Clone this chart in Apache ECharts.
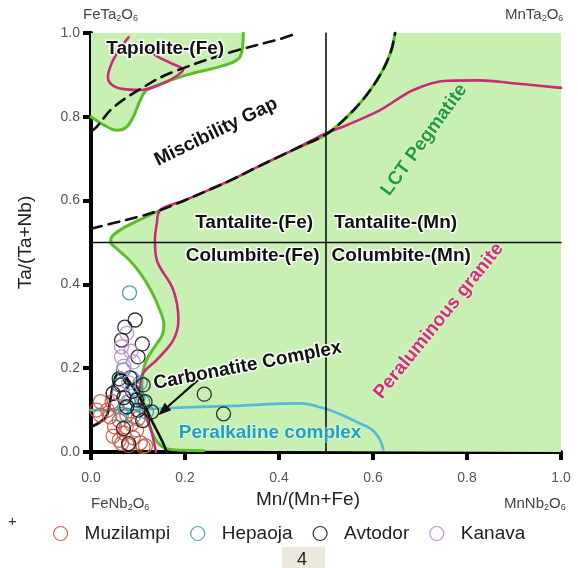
<!DOCTYPE html>
<html>
<head>
<meta charset="utf-8">
<script src="https://cdn.jsdelivr.net/npm/echarts@6/dist/echarts.min.js"></script>
<style>
  html, body { margin: 0; padding: 0; background: #fff; }
  #chart { width: 578px; height: 568px; }
</style>
</head>
<body>
<div id="chart"></div>
<script>
// Measured compositions: [Mn/(Mn+Fe), Ta/(Ta+Nb)]
const muzilampi = [
  [0.012,0.100],[0.020,0.088],[0.020,0.120],[0.035,0.100],[0.040,0.084],[0.045,0.120],
  [0.050,0.060],[0.055,0.110],[0.047,0.038],[0.060,0.075],[0.065,0.020],[0.070,0.045],
  [0.076,0.088],[0.080,0.015],[0.086,0.066],[0.090,0.034],[0.097,0.052],[0.100,0.080],
  [0.105,0.022],[0.111,0.013],[0.116,0.015],[0.060,0.028],[0.075,0.060],[0.047,0.140]
];
const hepaoja = [
  [0.082,0.380],[0.069,0.196],[0.087,0.176],[0.095,0.150],[0.079,0.120],[0.072,0.105],
  [0.118,0.096],[0.100,0.130],[0.060,0.160],[0.090,0.085],[0.105,0.165],[0.065,0.090],
  [0.110,0.120]
];
const avtodor = [
  [0.094,0.315],[0.072,0.298],[0.065,0.267],[0.109,0.258],[0.100,0.227],[0.111,0.160],
  [0.241,0.138],[0.282,0.091],[0.129,0.096],[0.047,0.140],[0.083,0.177],[0.069,0.056],
  [0.097,0.124],[0.076,0.108],[0.060,0.175],[0.088,0.145],[0.070,0.130],[0.100,0.100],
  [0.080,0.020],[0.110,0.075],[0.115,0.120],[0.065,0.160]
];
const kanava = [
  [0.076,0.283],[0.065,0.251],[0.065,0.227],[0.085,0.240],[0.070,0.205],[0.090,0.215],
  [0.080,0.165],[0.060,0.140]
];

// Field boundaries
const lowerGapCurve = [
  [0,0.533],[0.05,0.547],[0.10,0.561],[0.147,0.577],[0.20,0.601],[0.25,0.625],[0.30,0.650],
  [0.35,0.678],[0.40,0.705],[0.445,0.729],[0.50,0.758],[0.54,0.795],[0.578,0.840],
  [0.607,0.885],[0.627,0.925],[0.640,0.963],[0.647,1.0]
];
const upperGapCurve = [
  [0,0.765],[0.012,0.776],[0.047,0.822],[0.115,0.873],[0.17,0.905],[0.30,0.955],[0.40,0.985],[0.44,1.0]
];
const lctBoundary = [
  [0.147,0.577],[0.100,0.552],[0.065,0.532],[0.045,0.515],[0.042,0.502],[0.055,0.485],
  [0.080,0.460],[0.104,0.428],[0.128,0.385],[0.146,0.340],[0.155,0.305],[0.152,0.280],
  [0.138,0.255],[0.122,0.228],[0.112,0.200],[0.108,0.160],[0.112,0.110],[0.125,0.060],
  [0.140,0.025],[0.160,0.008],[0.200,0.004],[0.240,0.003]
];
const tapioliteBoundary = [
  [0.324,1.0],[0.318,0.945],[0.290,0.925],[0.204,0.900],[0.120,0.865],[0.105,0.840],
  [0.090,0.800],[0.075,0.775],[0.055,0.768],[0.025,0.782],[0,0.800]
];
const peraluminousLine = [
  [0.138,0],[0.136,0.012],[0.126,0.060],[0.111,0.100],[0.104,0.148],[0.111,0.188],
  [0.140,0.220],[0.175,0.267],[0.186,0.315],[0.175,0.387],[0.140,0.458],[0.136,0.506],
  [0.140,0.545],[0.147,0.577],[0.20,0.601],[0.25,0.625],[0.30,0.650],[0.35,0.678],
  [0.40,0.705],[0.445,0.729],[0.498,0.760],[0.544,0.780],[0.615,0.816],[0.686,0.864],
  [0.757,0.886],[0.828,0.887],[0.898,0.880],[1.0,0.869]
];
const peraluminousTapiolite = [
  [0.080,0.990],[0.060,0.960],[0.045,0.930],[0.036,0.895],[0.045,0.876],[0.070,0.866],
  [0.104,0.864],[0.150,0.878],[0.183,0.898],[0.196,0.912],[0.170,0.928],[0.140,0.945],[0.125,0.958]
];
const carbonatiteLine = [
  [0,0.060],[0.020,0.072],[0.034,0.088],[0.042,0.130],[0.048,0.165],[0.057,0.186],
  [0.068,0.186],[0.080,0.170],[0.092,0.150],[0.111,0.117],[0.132,0.069],[0.147,0.036],
  [0.157,0.012],[0.160,0]
];
const peralkalineLine = [
  [0,0.100],[0.05,0.100],[0.10,0.101],[0.17,0.105],[0.30,0.110],[0.445,0.116],[0.494,0.105],
  [0.530,0.090],[0.565,0.072],[0.597,0.054],[0.615,0.029],[0.622,0.006]
];
const carbonatiteArrow = [[0.228,0.172],[0.143,0.088]];
const feMnDivider = [[0.5,0],[0.5,1]];
const taNbDivider = [[0,0.5],[1,0.5]];

// Field and suite names, placed in data space
const fieldLabels = [
  { text: 'Tapiolite-(Fe)', at: [0.158, 0.963], angle: 0, color: '#111', halo: true },
  { text: 'Miscibility Gap', at: [0.266, 0.764], angle: 26, color: '#111', halo: true },
  { text: 'LCT Pegmatite', at: [0.709, 0.745], angle: 54, color: '#1f9e3c', halo: false },
  { text: 'Tantalite-(Fe)', at: [0.347, 0.546], angle: 0, color: '#111', halo: true },
  { text: 'Tantalite-(Mn)', at: [0.648, 0.546], angle: 0, color: '#111', halo: true },
  { text: 'Columbite-(Fe)', at: [0.344, 0.468], angle: 0, color: '#111', halo: true },
  { text: 'Columbite-(Mn)', at: [0.660, 0.468], angle: 0, color: '#111', halo: true },
  { text: 'Peraluminous granite', at: [0.740, 0.313], angle: 51, color: '#d22f7e', halo: false },
  { text: 'Carbonatite Complex', at: [0.333, 0.206], angle: 11, color: '#111', halo: true },
  { text: 'Peralkaline complex', at: [0.381, 0.045], angle: 0, color: '#1ea2c4', halo: false }
];

const FONT = '"Liberation Sans", Arial, sans-serif';
const GREEN_FILL = '#c9f0b3';
const GREEN_LINE = '#5cbf2a';
const MAGENTA = '#cc2a78';
const CYAN = '#55b9da';

// LCT field: right of the lower gap curve and the green boundary
const lctField = lowerGapCurve.filter(p => p[0] >= 0.147)
  .concat([[1,1],[1,0]])
  .concat(lctBoundary.slice().reverse());
const tapioliteField = tapioliteBoundary.concat([[0,1]]);

function fillSeries(name, pts, color, z) {
  return {
    type: 'custom', name, data: pts, z, silent: true, clip: true,
    renderItem(params, api) {
      if (params.dataIndex !== 0) return null;
      return { type: 'polygon', shape: { points: pts.map(p => api.coord(p)) }, style: { fill: color } };
    }
  };
}
function curve(name, pts, color, width, z, dash, smooth) {
  return {
    type: 'line', name, data: pts, z, silent: true, showSymbol: false, symbol: 'none',
    smooth: smooth === undefined ? 0.35 : smooth, clip: true,
    lineStyle: { color, width, type: dash || 'solid', cap: 'round', join: 'round' }
  };
}
function pointSeries(name, pts, color) {
  return {
    type: 'scatter', name, data: pts, z: 20, symbol: 'circle', symbolSize: 14,
    color: color,
    itemStyle: { color: 'rgba(0,0,0,0)', borderColor: color, borderWidth: 1.3, opacity: 0.9 }
  };
}

const chart = echarts.init(document.getElementById('chart'), null, { renderer: 'canvas' });

const legendNames = ['Muzilampi', 'Hepaoja', 'Avtodor', 'Kanava'];
const legendColors = ['#c95b45', '#3a99a8', '#1a1a1a', '#b88ad0'];

const subRich = { s: { fontSize: 9, fontFamily: FONT, fill: '#444', padding: [9, 0, 0, 0] } };

chart.setOption({
  animation: false,
  backgroundColor: '#fff',
  grid: { left: 91, right: 17, top: 33, bottom: 116 },
  xAxis: [
    {
      type: 'value', min: 0, max: 1, interval: 0.2, position: 'bottom',
      name: 'Mn/(Mn+Fe)', nameLocation: 'middle', nameGap: 36,
      nameTextStyle: { fontFamily: FONT, fontSize: 19, color: '#222', padding: [0, 36, 0, 0] },
      axisLine: { lineStyle: { color: '#000', width: 4 } },
      axisTick: { inside: false, length: 8, lineStyle: { color: '#000', width: 4 } },
      axisLabel: { fontFamily: FONT, fontSize: 14, color: '#555', margin: 19, formatter: v => v.toFixed(1) },
      splitLine: { show: false }
    },
    {
      type: 'value', min: 0, max: 1, position: 'top',
      axisLine: { lineStyle: { color: '#000', width: 3 } },
      axisTick: { show: false }, axisLabel: { show: false }, splitLine: { show: false }
    }
  ],
  yAxis: [
    {
      type: 'value', min: 0, max: 1, interval: 0.2, position: 'left',
      name: 'Ta/(Ta+Nb)', nameLocation: 'middle', nameGap: 56, nameRotate: 90,
      nameTextStyle: { fontFamily: FONT, fontSize: 19, color: '#222' },
      axisLine: { lineStyle: { color: '#000', width: 4 } },
      axisTick: { inside: false, length: 8, lineStyle: { color: '#000', width: 4 } },
      axisLabel: { fontFamily: FONT, fontSize: 14, color: '#555', margin: 11, formatter: v => v.toFixed(1) },
      splitLine: { show: false }
    },
    {
      type: 'value', min: 0, max: 1, position: 'right',
      axisLine: { lineStyle: { color: '#000', width: 3 } },
      axisTick: { show: false }, axisLabel: { show: false }, splitLine: { show: false }
    }
  ],
  legend: {
    data: legendNames.map((n, i) => ({
      name: n, icon: 'circle',
      itemStyle: { color: 'rgba(0,0,0,0)', borderColor: legendColors[i], borderWidth: 1.2 }
    })),
    left: 48, top: 519, itemWidth: 38, itemHeight: 14, itemGap: 20,
    textStyle: { fontFamily: FONT, fontSize: 19, color: '#222' },
    selectedMode: false
  },
  graphic: [
    { type: 'text', left: 83, top: 7, style: { text: 'FeTa{s|2}O{s|6}', font: '15px ' + FONT, fill: '#444', rich: subRich } },
    { type: 'text', left: 505, top: 7, style: { text: 'MnTa{s|2}O{s|6}', font: '15px ' + FONT, fill: '#444', rich: subRich } },
    { type: 'text', left: 91, top: 496, style: { text: 'FeNb{s|2}O{s|6}', font: '15px ' + FONT, fill: '#444', rich: subRich } },
    { type: 'text', left: 504, top: 496, style: { text: 'MnNb{s|2}O{s|6}', font: '15px ' + FONT, fill: '#444', rich: subRich } },
    { type: 'text', left: 8, top: 514, style: { text: '+', font: '15px ' + FONT, fill: '#333' } },
    { type: 'rect', left: 282, top: 547, shape: { width: 43, height: 21 }, style: { fill: '#ece8dc' } },
    { type: 'text', left: 297, top: 551, style: { text: '4', font: '18px ' + FONT, fill: '#222' } }
  ],
  series: [
    fillSeries('LCT field', lctField, GREEN_FILL, 1),
    fillSeries('Tapiolite field', tapioliteField, GREEN_FILL, 1),
    curve('LCT boundary', lctBoundary, GREEN_LINE, 3, 3),
    curve('Tapiolite boundary', tapioliteBoundary, GREEN_LINE, 3, 3),
    curve('LCT upper boundary', lowerGapCurve.filter(p => p[0] >= 0.445), GREEN_LINE, 3, 3),
    curve('Peraluminous granite', peraluminousLine, MAGENTA, 2.6, 4),
    curve('Peraluminous tapiolite', peraluminousTapiolite, MAGENTA, 2.6, 4),
    curve('Peralkaline complex', peralkalineLine, CYAN, 2.6, 4),
    curve('Carbonatite complex', carbonatiteLine, '#111', 2.6, 5),
    curve('Lower gap', lowerGapCurve, '#111', 2.6, 6, [11, 7]),
    curve('Upper gap', upperGapCurve, '#111', 2.6, 6, [11, 7]),
    curve('Mn divider', feMnDivider, '#111', 1.6, 6, 'solid', false),
    curve('Ta divider', taNbDivider, '#111', 1.6, 6, 'solid', false),
    {
      type: 'custom', name: 'Carbonatite arrow', data: carbonatiteArrow, z: 7, silent: true, clip: true,
      renderItem(params, api) {
        if (params.dataIndex !== 0) return null;
        const a = api.coord(carbonatiteArrow[0]);
        const b = api.coord(carbonatiteArrow[1]);
        const dx = b[0] - a[0], dy = b[1] - a[1];
        const len = Math.hypot(dx, dy);
        const ux = dx / len, uy = dy / len;
        const headLen = 13, headHalf = 5;
        const base = [b[0] - ux * headLen, b[1] - uy * headLen];
        return {
          type: 'group',
          children: [
            { type: 'line', shape: { x1: a[0], y1: a[1], x2: base[0], y2: base[1] },
              style: { stroke: '#111', lineWidth: 2.2 } },
            { type: 'polygon', shape: { points: [
                b,
                [base[0] - uy * headHalf, base[1] + ux * headHalf],
                [base[0] + uy * headHalf, base[1] - ux * headHalf]
              ] }, style: { fill: '#111' } }
          ]
        };
      }
    },
    {
      type: 'custom', name: 'Field labels', data: fieldLabels.map(l => l.at), z: 8, silent: true,
      renderItem(params, api) {
        const l = fieldLabels[params.dataIndex];
        const p = api.coord([api.value(0), api.value(1)]);
        return {
          type: 'text', x: p[0], y: p[1], rotation: l.angle * Math.PI / 180,
          style: {
            text: l.text, font: 'bold 19px ' + FONT, fill: l.color,
            align: 'center', verticalAlign: 'middle',
            stroke: l.halo ? 'rgba(255,255,255,0.9)' : 'rgba(255,255,255,0.35)',
            lineWidth: l.halo ? 3 : 2
          }
        };
      }
    },
    pointSeries('Muzilampi', muzilampi, legendColors[0]),
    pointSeries('Hepaoja', hepaoja, legendColors[1]),
    pointSeries('Avtodor', avtodor, legendColors[2]),
    pointSeries('Kanava', kanava, legendColors[3])
  ]
});
</script>
</body>
</html>
